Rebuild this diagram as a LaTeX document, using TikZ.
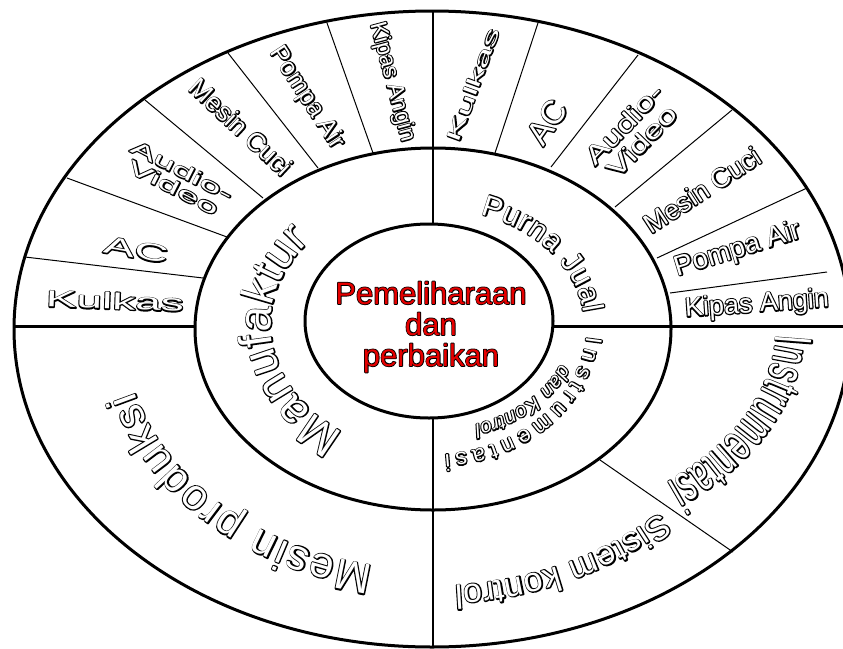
\documentclass[tikz,border=0pt]{standalone}
\usepackage{fontspec}
\setmainfont{Liberation Sans}
\usetikzlibrary{decorations.text}
\definecolor{pred}{RGB}{230,0,0}
% font of a given size and horizontal stretch
\newcommand\OF[2]{\fontspec[FakeStretch=#2]{Liberation Sans}\fontsize{#1}{#1}\selectfont}
% black fattened layer under a plain white layer gives outlined letters
\newcommand\BL{\special{pdf:literal direct 2 Tr 2.3 w 1 j 0 G}}
\newcommand\CL{\special{pdf:literal direct 2 Tr 1.6 w 1 j 0 G}}
\newcommand\WL{\special{pdf:literal direct 0 Tr}}
% name, x, y(px, down), rotation, size, stretch, text (\X starts each line)
\newcommand\olabel[7]{%
  \let\X\BL
  \node[font=\OF{#5}{#6}, text=black, rotate=#4, align=center, inner sep=0pt] (#1b) at (#2,-#3) {#7};
  \let\X\WL
  \node[font=\OF{#5}{#6}, text=white, rotate=#4, align=center, inner sep=0pt] (#1) at (#2,-#3) {#7};}
% centre, rx, ry, start, end, size, stretch, text
\newcommand\arcol[8]{%
  \begin{scope}[shift={(#1)}]
    \path[decorate, decoration={text along path, text align={fit to path}, text={|\OF{#6}{#7}\color{black}\BL|#8}}]
      (#4:#2 and #3) arc[start angle=#4, end angle=#5, x radius=#2, y radius=#3];
    \path[decorate, decoration={text along path, text align={fit to path}, text={|\OF{#6}{#7}\color{white}\WL|#8}}]
      (#4:#2 and #3) arc[start angle=#4, end angle=#5, x radius=#2, y radius=#3];
  \end{scope}}
\tikzset{
  ring/.style={line width=3pt},
  bar/.style={line width=3pt},
  axis/.style={line width=1.6pt},
  divider/.style={line width=1pt},
}
\begin{document}
\begin{tikzpicture}[x=1pt, y=1pt]
\useasboundingbox (0,0) rectangle (843,-648);
\fill[white] (0,0) rectangle (843,-648);
% rings
\draw[ring] (432,-329) ellipse [x radius=418, y radius=318];
\draw[ring] (433,-329) ellipse [x radius=238, y radius=181];
\draw[ring] (429,-321) ellipse [x radius=124, y radius=97];
% named end points
\coordinate (hLo) at (14,-326);   \coordinate (hLi) at (195,-326);
\coordinate (hRi) at (553,-326);  \coordinate (hRo) at (852,-326);
\coordinate (vTo) at (433,-11);   \coordinate (vTi) at (433,-224);
\coordinate (vBi) at (433,-418);  \coordinate (vBo) at (433,-648);
\coordinate (L1a) at (25,-257);   \coordinate (L1b) at (203,-278);
\coordinate (L2a) at (67,-178);   \coordinate (L2b) at (227,-237);
\coordinate (L3a) at (145,-100);  \coordinate (L3b) at (263,-198);
\coordinate (L4a) at (228,-53);   \coordinate (L4b) at (318,-168);
\coordinate (L5a) at (327,-23);   \coordinate (L5b) at (373,-153);
\coordinate (R1a) at (538,-23);   \coordinate (R1b) at (495,-153);
\coordinate (R2a) at (638,-55);   \coordinate (R2b) at (551,-167);
\coordinate (R3a) at (732,-110);  \coordinate (R3b) at (615,-207);
\coordinate (R4a) at (807,-188);  \coordinate (R4b) at (657,-258);
\coordinate (R5a) at (827,-272);  \coordinate (R5b) at (670,-293);
\coordinate (D1a) at (600,-460);  \coordinate (D1b) at (733,-552);
% dividing lines
\draw[bar] (hLo) -- (hLi);
\draw[bar] (hRi) -- (hRo);
\draw[axis] (vTo) -- (vTi);
\draw[axis] (vBi) -- (vBo);
\foreach \p in {L1,L2,L3,L4,L5,R1,R2,R3,R4,R5,D1}
  \draw[divider] (\p a) -- (\p b);
% centre text
\node[font=\OF{31}{1}, text=black, align=center, inner sep=0pt] (centreb) at (431,-327)
  {\CL Pemeliharaan\\\CL dan\\\CL perbaikan};
\node[font=\OF{31}{1}, text=pred, align=center, inner sep=0pt] (centre) at (431,-327)
  {\WL Pemeliharaan\\\WL dan\\\WL perbaikan};
% outer ring, upper left
\olabel{ulKulkas}{115}{301}{-2}{23}{2.0}{\X Kulkas}
\olabel{ulAC}{136}{250}{-10}{24}{1.95}{\X AC}
\olabel{ulAudio}{178}{179}{-27}{19}{2.05}{\X Audio-\\\X Video}
\olabel{ulMesin}{241}{127}{-43}{26}{1}{\X Mesin Cuci}
\olabel{ulPompa}{307}{98}{-57}{25}{1}{\X Pompa Air}
\olabel{ulKipas}{392}{82}{-75}{23}{1}{\X Kipas Angin}
% outer ring, upper right
\olabel{urKulkas}{473}{85}{70}{19}{2.1}{\X Kulkas}
\olabel{urAC}{547}{122}{55}{33}{1}{\X AC}
\olabel{urAudio}{633}{133}{46}{25}{1.4}{\X Audio-\\\X Video}
\olabel{urMesin}{702}{190}{33}{27}{1}{\X Mesin Cuci}
\olabel{urPompa}{738}{250}{17}{28}{1}{\X Pompa Air}
\olabel{urKipas}{757}{305}{4}{27}{1}{\X Kipas Angin}
% curved texts, middle ring
\arcol{431,-325}{153}{117}{71}{6}{30}{1}{Purna Jual}
\arcol{431,-325}{160}{128}{237}{139}{46}{1}{Manufaktur}
\arcol{431,-325}{156}{130}{-5}{-85}{23}{1}{Instrumentasi}
\begin{scope}[shift={(431,-325)}]
  \path[decorate, decoration={text along path, text align={fit to path}, text={|\OF{20}{1}\itshape\color{black}\BL|dan Kontrol}}]
    (-22:140 and 105) arc[start angle=-22, end angle=-72, x radius=140, y radius=105];
  \path[decorate, decoration={text along path, text align={fit to path}, text={|\OF{20}{1}\itshape\color{white}\WL|dan Kontrol}}]
    (-22:140 and 105) arc[start angle=-22, end angle=-72, x radius=140, y radius=105];
\end{scope}
% curved texts, outer ring
\arcol{432,-329}{308}{241}{259}{195}{43}{1}{Mesin produksi}
\arcol{432,-329}{325}{257}{-45.4}{-86}{34}{1}{Sistem kontrol}
\arcol{432,-329}{344}{210}{-1.6}{-47}{53}{0.57}{Instrumentasi}
\end{tikzpicture}
\end{document}
